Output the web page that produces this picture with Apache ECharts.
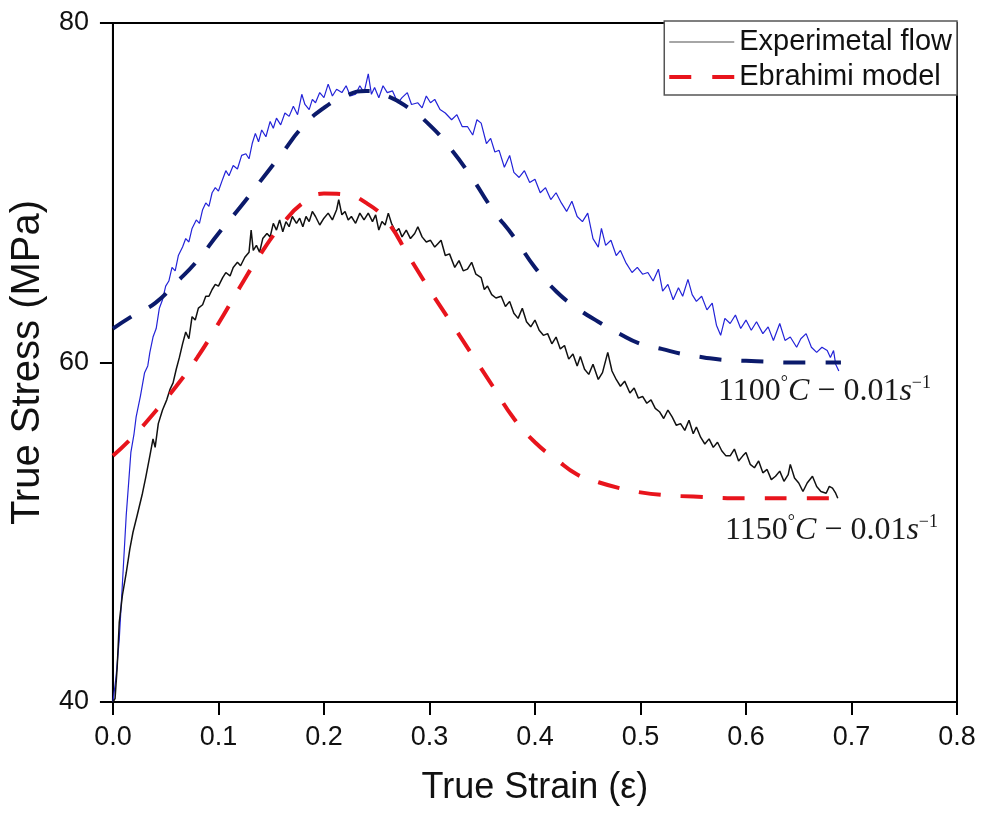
<!DOCTYPE html>
<html>
<head>
<meta charset="utf-8">
<script src="https://cdn.jsdelivr.net/npm/echarts@6/dist/echarts.min.js"></script>
<style>
html,body{margin:0;padding:0;background:#fff;}
#chart{width:982px;height:816px;}
</style>
</head>
<body>
<div id="chart"></div>
<script>
// ---- Data ----
var xTicks = ['0.0','0.1','0.2','0.3','0.4','0.5','0.6','0.7','0.8'];
var yTicks = [40, 60, 80];
var legendNames = ['Experimetal flow', 'Ebrahimi model'];
var annotations = ['1100°C − 0.01s⁻¹', '1150°C − 0.01s⁻¹'];

// Experimental flow curve, 1100 °C - 0.01 s^-1 [strain, stress]
var exp1100 = [
[0.000,40.0],[0.003,41.5],[0.006,43.7],[0.009,47.0],[0.0126,51.0],[0.015,53.0],[0.017,54.7],[0.020,55.8],
[0.022,56.8],[0.026,58.0],[0.030,59.4],[0.033,59.8],[0.035,60.6],[0.038,61.5],[0.041,62.0],[0.044,63.2],
[0.047,63.7],[0.050,64.5],[0.053,64.8],[0.056,65.6],[0.059,65.4],[0.062,66.3],[0.066,66.8],[0.069,67.3],
[0.072,67.1],[0.075,67.9],[0.079,68.4],[0.082,68.2],[0.085,69.0],[0.088,69.4],[0.091,69.2],[0.094,70.0],
[0.097,70.3],[0.100,70.1],[0.104,70.8],[0.107,71.3],[0.110,71.0],[0.114,71.6],[0.118,71.4],[0.122,72.2],
[0.126,72.3],[0.129,72.0],[0.132,72.9],[0.135,73.5],[0.138,73.0],[0.141,73.7],[0.145,73.3],[0.149,74.2],
[0.152,73.8],[0.155,74.4],[0.159,74.0],[0.163,74.7],[0.167,74.5],[0.171,75.1],[0.175,74.6],[0.179,75.8],
[0.182,75.2],[0.186,74.9],[0.189,75.5],[0.192,75.3],[0.196,75.9],[0.200,75.6],[0.204,76.4],[0.208,75.7],
[0.212,76.1],[0.217,75.9],[0.221,76.3],[0.225,75.7],[0.230,75.8],[0.234,76.3],[0.238,75.9],[0.242,77.0],
[0.245,75.8],[0.248,76.2],[0.252,75.6],[0.256,76.3],[0.260,75.9],[0.265,76.0],[0.270,75.3],[0.274,75.6],
[0.279,75.9],[0.283,75.2],[0.289,75.3],[0.293,75.0],[0.297,75.7],[0.301,75.3],[0.305,75.5],[0.310,74.9],
[0.315,74.7],[0.321,74.3],[0.326,74.6],[0.331,73.9],[0.336,73.9],[0.341,73.4],[0.345,74.3],[0.349,74.1],
[0.354,72.9],[0.358,73.2],[0.362,72.4],[0.366,72.5],[0.371,71.5],[0.376,72.2],[0.380,71.2],[0.385,70.9],
[0.390,71.3],[0.395,70.6],[0.400,70.8],[0.405,70.0],[0.410,70.3],[0.415,69.6],[0.420,70.0],[0.425,69.4],
[0.430,68.9],[0.435,69.5],[0.440,68.6],[0.445,68.3],[0.450,68.8],[0.455,67.3],[0.460,66.8],[0.463,67.9],
[0.467,66.9],[0.472,67.2],[0.477,66.3],[0.481,66.6],[0.486,65.9],[0.492,65.3],[0.497,65.6],[0.502,65.2],
[0.507,65.3],[0.512,64.8],[0.517,65.5],[0.521,64.2],[0.526,64.6],[0.531,63.7],[0.536,64.4],[0.540,63.9],
[0.545,64.9],[0.549,64.0],[0.553,63.6],[0.558,63.9],[0.563,63.1],[0.568,63.5],[0.572,62.2],[0.576,61.6],
[0.580,62.6],[0.585,62.3],[0.590,62.8],[0.595,62.0],[0.600,62.5],[0.605,61.9],[0.610,62.4],[0.616,61.7],
[0.621,62.1],[0.626,61.3],[0.632,62.3],[0.637,61.3],[0.642,61.5],[0.648,60.9],[0.652,61.4],[0.657,61.7],
[0.662,60.9],[0.667,60.6],[0.672,60.9],[0.677,60.7],[0.680,60.3],[0.683,60.7],[0.685,59.9],[0.688,59.5]
];

// Experimental flow curve, 1150 °C - 0.01 s^-1
var exp1150 = [
[0.000,40.0],[0.002,40.2],[0.004,42.0],[0.006,44.7],[0.009,46.3],[0.0126,47.6],[0.016,49.0],[0.019,50.0],
[0.023,51.0],[0.028,52.3],[0.031,53.2],[0.035,54.5],[0.038,55.5],[0.040,55.0],[0.043,56.4],[0.047,57.2],
[0.051,57.8],[0.054,58.4],[0.057,58.8],[0.060,59.6],[0.063,60.3],[0.066,61.1],[0.069,61.8],[0.072,61.4],
[0.075,62.7],[0.078,62.5],[0.081,63.2],[0.085,63.4],[0.088,63.9],[0.091,63.9],[0.094,64.3],[0.097,64.6],
[0.100,64.5],[0.104,65.0],[0.107,65.3],[0.111,65.1],[0.114,65.6],[0.118,65.9],[0.121,65.7],[0.125,66.2],
[0.129,66.5],[0.131,67.8],[0.133,66.6],[0.136,66.9],[0.139,66.5],[0.142,67.3],[0.146,67.6],[0.149,67.4],
[0.152,68.2],[0.155,67.8],[0.158,68.4],[0.161,67.7],[0.164,68.3],[0.167,68.0],[0.170,68.6],[0.174,68.2],
[0.177,68.5],[0.180,68.0],[0.183,68.6],[0.186,68.3],[0.189,68.9],[0.192,68.6],[0.196,68.1],[0.200,68.5],
[0.204,68.8],[0.208,68.4],[0.212,69.0],[0.214,69.6],[0.217,68.7],[0.220,68.9],[0.223,68.4],[0.226,68.6],
[0.230,68.2],[0.234,68.8],[0.238,68.4],[0.242,68.8],[0.246,68.3],[0.249,68.7],[0.252,67.8],[0.255,68.3],
[0.258,68.1],[0.261,68.8],[0.264,68.2],[0.268,67.7],[0.271,67.9],[0.274,67.4],[0.278,67.8],[0.282,67.3],
[0.286,67.6],[0.289,68.0],[0.293,67.4],[0.297,67.1],[0.301,67.2],[0.305,66.8],[0.308,67.0],[0.311,67.2],
[0.315,66.3],[0.319,66.4],[0.324,65.6],[0.328,66.0],[0.332,65.4],[0.336,65.5],[0.340,65.9],[0.344,65.2],
[0.349,65.0],[0.352,64.3],[0.355,64.5],[0.359,64.0],[0.363,63.8],[0.368,63.9],[0.372,63.3],[0.376,63.6],
[0.380,62.9],[0.384,62.6],[0.388,63.2],[0.392,62.4],[0.396,62.1],[0.400,62.5],[0.404,61.9],[0.408,61.6],
[0.412,61.7],[0.416,61.1],[0.420,61.5],[0.424,60.8],[0.428,61.0],[0.432,60.2],[0.436,60.5],[0.440,59.8],
[0.443,60.35],[0.447,59.6],[0.451,59.3],[0.455,59.9],[0.460,59.0],[0.464,59.4],[0.469,60.6],[0.473,59.5],
[0.477,59.0],[0.481,58.6],[0.485,58.9],[0.490,58.2],[0.494,58.5],[0.498,57.9],[0.502,58.0],[0.506,57.6],
[0.510,57.8],[0.514,57.3],[0.518,57.1],[0.522,56.7],[0.526,57.2],[0.530,56.8],[0.534,56.3],[0.538,56.4],
[0.542,56.0],[0.546,56.6],[0.550,55.8],[0.553,56.2],[0.557,55.6],[0.561,55.2],[0.565,55.5],[0.569,55.0],
[0.573,55.3],[0.577,54.8],[0.581,54.5],[0.585,54.5],[0.589,54.9],[0.593,54.2],[0.597,54.5],[0.600,54.7],
[0.604,54.0],[0.608,53.8],[0.612,54.2],[0.616,53.5],[0.620,53.7],[0.624,53.1],[0.628,53.3],[0.632,53.6],
[0.636,53.0],[0.640,53.4],[0.642,54.0],[0.646,53.2],[0.650,52.9],[0.654,52.4],[0.658,52.9],[0.663,53.3],
[0.667,52.7],[0.671,52.4],[0.676,52.3],[0.679,52.7],[0.682,52.6],[0.685,52.3],[0.687,52.0]
];

// Ebrahimi model, 1100 °C
var model1100 = [
[0.00,62.0],[0.02,62.8],[0.04,63.5],[0.06,64.7],[0.08,66.0],[0.10,67.6],[0.12,69.1],[0.14,70.7],
[0.16,72.3],[0.18,73.9],[0.20,75.0],[0.22,75.7],[0.24,76.0],[0.26,75.7],[0.28,75.0],[0.30,74.0],
[0.32,72.6],[0.34,70.9],[0.36,69.0],[0.38,67.4],[0.40,65.6],[0.42,64.2],[0.44,63.2],[0.46,62.4],
[0.48,61.7],[0.50,61.1],[0.52,60.8],[0.54,60.5],[0.56,60.3],[0.58,60.15],[0.60,60.1],[0.62,60.05],
[0.64,60.0],[0.66,60.0],[0.69,60.0]
];

// Ebrahimi model, 1150 °C
var model1150 = [
[0.00,54.5],[0.02,55.7],[0.04,57.1],[0.06,58.6],[0.08,60.3],[0.10,62.3],[0.12,64.4],[0.14,66.4],
[0.16,68.1],[0.18,69.4],[0.20,69.95],[0.22,69.9],[0.24,69.4],[0.26,68.3],[0.28,66.3],[0.30,64.3],
[0.32,62.4],[0.34,60.5],[0.36,58.6],[0.38,56.7],[0.40,55.3],[0.42,54.3],[0.44,53.4],[0.46,52.95],
[0.48,52.6],[0.50,52.35],[0.52,52.2],[0.55,52.1],[0.60,52.0],[0.65,52.0],[0.687,52.0]
];

// ---- Chart ----
var chart = echarts.init(document.getElementById('chart'));
var sans = 'Liberation Sans, Arial, sans-serif';
var serif = 'Liberation Serif, Times New Roman, serif';

function richAnno(txt) {
  var num = txt.split('°')[0];
  return '{n|' + num + '}{sup|°}{it|C}{n| − 0.01}{it|s}{sup|−1}';
}
var richStyle = {
  n: {fontFamily: serif, fontSize: 32, fill: '#1a1a1a', lineHeight: 36},
  it: {fontFamily: serif, fontSize: 32, fontStyle: 'italic', fill: '#1a1a1a', lineHeight: 36},
  sup: {fontFamily: serif, fontSize: 18, fill: '#1a1a1a', verticalAlign: 'top', lineHeight: 36}
};

var option = {
  backgroundColor: '#fff',
  animation: false,
  grid: {left: 110, right: 25, top: 23, bottom: 114, show: true, borderColor: '#000', borderWidth: 2, backgroundColor: 'transparent'},
  legend: {
    show: true,
    right: 25, top: 21,
    orient: 'vertical',
    padding: [6, 5, 3, 3],
    borderColor: '#555', borderWidth: 1.5,
    backgroundColor: '#fff',
    itemWidth: 65, itemHeight: 14, itemGap: 5,
    textStyle: {fontFamily: sans, fontSize: 29, color: '#111', lineHeight: 30},
    data: [
      {name: legendNames[0], itemStyle: {color: 'rgba(0,0,0,0)', borderWidth: 0, opacity: 0},
        lineStyle: {color: '#888', width: 1.5, type: 'solid'}},
      {name: legendNames[1], itemStyle: {color: 'rgba(0,0,0,0)', borderWidth: 0, opacity: 0},
        lineStyle: {color: '#e8141c', width: 4, type: [22, 21]}}
    ]
  },
  xAxis: {
    type: 'value', min: 0, max: 0.8, interval: 0.1,
    name: 'True Strain (ε)', nameLocation: 'middle', nameGap: 68,
    nameTextStyle: {fontFamily: sans, fontSize: 36, color: '#111'},
    axisLine: {onZero: false, lineStyle: {color: '#000', width: 2}},
    axisTick: {inside: false, length: 13, lineStyle: {color: '#000', width: 2}},
    axisLabel: {margin: 22, fontFamily: sans, fontSize: 27, color: '#111',
      formatter: function (v) { var i = Math.round(v * 10); return xTicks[i]; }},
    splitLine: {show: false}
  },
  yAxis: {
    type: 'value', min: yTicks[0], max: yTicks[yTicks.length - 1], interval: 20,
    name: 'True Stress (MPa)', nameLocation: 'middle', nameGap: 60,
    nameTextStyle: {fontFamily: sans, fontSize: 40, color: '#111'},
    axisLine: {onZero: false, lineStyle: {color: '#000', width: 2}},
    axisTick: {inside: false, length: 13, lineStyle: {color: '#000', width: 2}},
    axisLabel: {margin: 24, fontFamily: sans, fontSize: 27, color: '#111'},
    splitLine: {show: false}
  },
  series: [
    {name: 'exp1100', type: 'line', data: exp1100, symbol: 'none', lineStyle: {color: '#2323d8', width: 1.2}, z: 2},
    {name: legendNames[0], type: 'line', data: exp1150, symbol: 'none', itemStyle: {color: '#111'}, lineStyle: {color: '#111', width: 1.5}, z: 2},
    {name: 'model1100', type: 'line', data: model1100, symbol: 'none', smooth: true, lineStyle: {color: '#0b1a6b', width: 4, type: [22, 20]}, z: 3},
    {name: legendNames[1], type: 'line', data: model1150, symbol: 'none', smooth: true, itemStyle: {color: '#e8141c'}, lineStyle: {color: '#e8141c', width: 4, type: [22, 20]}, z: 3}
  ],
  graphic: [
    {type: 'text', left: 718, top: 374, z: 10, style: {text: richAnno(annotations[0]), rich: richStyle}},
    {type: 'text', left: 725, top: 513, z: 10, style: {text: richAnno(annotations[1]), rich: richStyle}}
  ]
};
chart.setOption(option);
</script>
</body>
</html>
